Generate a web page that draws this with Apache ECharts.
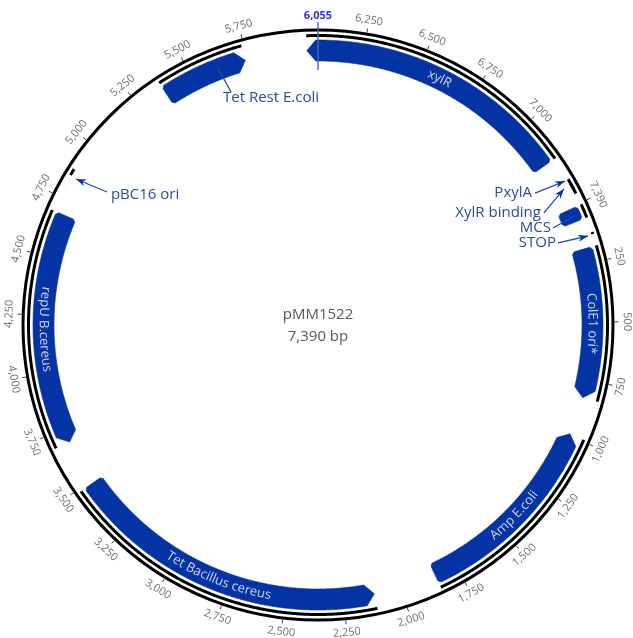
<!DOCTYPE html>
<html>
<head>
<meta charset="utf-8">
<script src="https://cdn.jsdelivr.net/npm/echarts@6/dist/echarts.min.js"></script>
<style>
  html, body { margin: 0; padding: 0; background: #ffffff; }
  #chart { width: 633px; height: 638px; }
</style>
</head>
<body>
<div id="chart"></div>
<script>
// ---- Plasmid data ----
const plasmidName = 'pMM1522';
const plasmidLength = 7390;
const plasmidLengthLabel = '7,390 bp';

const tickValues = [250, 500, 750, 1000, 1250, 1500, 1750, 2000, 2250, 2500, 2750, 3000,
  3250, 3500, 3750, 4000, 4250, 4500, 4750, 5000, 5250, 5500, 5750, 6250, 6500, 6750, 7000, 7390];
const tickLabels = ['250', '500', '750', '1,000', '1,250', '1,500', '1,750', '2,000', '2,250', '2,500',
  '2,750', '3,000', '3,250', '3,500', '3,750', '4,000', '4,250', '4,500', '4,750', '5,000', '5,250',
  '5,500', '5,750', '6,250', '6,500', '6,750', '7,000', '7,390'];

const markerValue = 6055;
const markerLabel = '6,055';

const featureNames   = ['xylR', 'PxylA', 'XylR binding', 'MCS', 'STOP', 'ColE1 ori*', 'Amp E.coli',
  'Tet Bacillus cereus', 'repU B.cereus', 'pBC16 ori', 'Tet Rest E.coli'];
const featureStarts  = [6007, 7282, 7300, 7, 128, 185, 992, 2117, 3690, 4848, 5372];
const featureEnds    = [7182, 7348, 7330, 65, 136, 828, 1845, 3488, 4688, 4876, 5740];
const featureStrands = [-1, 1, 1, 0, 1, 1, -1, -1, -1, 1, 1];

// ---- Drawing style / layout ----
const CENTER = [318, 325];
const R_OUTER = 295;       // backbone circle
const R_STRAND = 289.5;    // black span line under each feature
const R_IN = 264, R_OUT = 285;
const R_MID = (R_IN + R_OUT) / 2;
const R_TICK0 = 296.5, R_TICK1 = 300.5, R_TICKLABEL = 309;
const HEAD_PX = 9, CORNER_PX = 2.5;
const FONT = "'Open Sans', 'Noto Sans', 'DejaVu Sans', sans-serif";
const FEATURE_BLUE = '#0433a3';
const LABEL_BLUE = '#2b4b9c';
const INNER_TEXT = '#cfd6f3';

// glyph kind per feature: body = filled arc, none = span line only
const featureGlyph = ['body', 'none', 'none', 'body', 'none', 'body', 'body', 'body', 'body', 'none', 'body'];
// names drawn along the arc inside the feature
const insideLabels = ['xylR', 'ColE1 ori*', 'Amp E.coli', 'Tet Bacillus cereus', 'repU B.cereus'];
// callout labels: leader from -> to given as [radius, bp]; text anchored at "text"
const callouts = [
  { name: 'Tet Rest E.coli', from: [276, 5618], to: [248.7, 5635], text: [231.8, 5815], align: 'center', head: false },
  { name: 'pBC16 ori', from: [282.6, 4846], to: [249.4, 4869], text: [245.3, 4864], align: 'left', head: true },
  { name: 'PxylA', from: [285.9, 7282], to: [254, 7260], text: [252.3, 7255], align: 'right', head: true },
  { name: 'XylR binding', from: [281.1, 7308], to: [252.2, 7361], text: [250.4, 7357], align: 'right', head: true },
  { name: 'MCS', from: [277.5, 40], to: [254.2, 52], text: [253.3, 50], align: 'right', head: false },
  { name: 'STOP', from: [284.3, 138], to: [253.6, 125], text: [252.7, 124], align: 'right', head: true }
];

// ---- Helpers ----
const measureCtx = document.createElement('canvas').getContext('2d');
function textWidth(str, font) { measureCtx.font = font; return measureCtx.measureText(str).width; }
function bpPerPx(r) { return plasmidLength / (2 * Math.PI * r); }
function clockAngle(cs, p) { return Math.atan2(p[0] - cs.cx, -(p[1] - cs.cy)) * 180 / Math.PI; }
function isLowerHalf(theta) { return theta > 90 || theta <= -90; }
function readableRotation(theta, lower) { return -(lower ? theta - 180 : theta) * Math.PI / 180; }

function arcPoints(api, r, a, b, step) {
  const n = Math.max(1, Math.ceil(Math.abs(b - a) / step));
  const pts = [];
  for (let k = 0; k <= n; k++) pts.push(api.coord([r, a + (b - a) * k / n]));
  return pts;
}

function featureOutline(api, s, e, strand) {
  const head = HEAD_PX * bpPerPx(R_MID);
  const corner = CORNER_PX * bpPerPx(R_MID);
  let bs = s, be = e;
  if (strand > 0) be = Math.max(s, e - head);
  if (strand < 0) bs = Math.min(e, s + head);
  const a = strand < 0 ? bs : bs + corner;
  const b = strand > 0 ? be : be - corner;
  const pts = [];
  if (strand < 0) pts.push(api.coord([R_MID, s]));
  else { pts.push(api.coord([R_IN + CORNER_PX, bs])); pts.push(api.coord([R_OUT - CORNER_PX, bs])); }
  pts.push(...arcPoints(api, R_OUT, a, b, 6));
  if (strand > 0) pts.push(api.coord([R_MID, e]));
  else { pts.push(api.coord([R_OUT - CORNER_PX, be])); pts.push(api.coord([R_IN + CORNER_PX, be])); }
  pts.push(...arcPoints(api, R_IN, b, a, 6));
  return pts;
}

function arcText(api, cs, text, mid, r, font, color) {
  const lower = isLowerHalf(clockAngle(cs, api.coord([r, mid])));
  const chars = Array.from(text);
  const widths = chars.map(ch => textWidth(ch, font));
  const total = widths.reduce((x, y) => x + y, 0);
  const k = bpPerPx(r);
  let acc = -total / 2;
  const out = [];
  chars.forEach((ch, i) => {
    const c = acc + widths[i] / 2;
    acc += widths[i];
    const v = lower ? mid - c * k : mid + c * k;
    const p = api.coord([r, v]);
    out.push({
      type: 'text', x: p[0], y: p[1],
      rotation: readableRotation(clockAngle(cs, p), lower),
      style: { text: ch, font: font, fill: color, align: 'center', verticalAlign: 'middle',
               textAlign: 'center', textVerticalAlign: 'middle' }
    });
  });
  return out;
}

// ---- Chart ----
const chart = echarts.init(document.getElementById('chart'), null, { renderer: 'canvas' });

const option = {
  animation: false,
  backgroundColor: '#ffffff',
  polar: { center: CENTER, radius: R_OUTER },
  angleAxis: {
    type: 'value', min: 0, max: plasmidLength, clockwise: true,
    startAngle: (90 + markerValue / plasmidLength * 360) % 360,
    axisLine: { show: true, lineStyle: { color: '#000000', width: 3 } },
    axisTick: { show: false }, axisLabel: { show: false },
    splitLine: { show: false }, splitArea: { show: false }
  },
  radiusAxis: {
    type: 'value', min: 0, max: R_OUTER,
    axisLine: { show: false }, axisTick: { show: false }, axisLabel: { show: false },
    splitLine: { show: false }, splitArea: { show: false }
  },
  series: [
    // span lines and feature bodies
    {
      type: 'custom', coordinateSystem: 'polar', clip: false,
      data: featureStarts.map(s => [R_MID, s]),
      renderItem: function (params, api) {
        const i = params.dataIndex;
        const s = featureStarts[i], e = featureEnds[i];
        const children = [{
          type: 'polyline',
          shape: { points: arcPoints(api, R_STRAND, s, e, 4) },
          style: { stroke: '#000000', lineWidth: 3, fill: null, lineCap: 'butt' }
        }];
        if (featureGlyph[i] === 'body') {
          children.push({
            type: 'polygon',
            shape: { points: featureOutline(api, s, e, featureStrands[i]) },
            style: { fill: FEATURE_BLUE, stroke: FEATURE_BLUE, lineWidth: 0.6 }
          });
        }
        return { type: 'group', children: children };
      }
    },
    // names along the arcs
    {
      type: 'custom', coordinateSystem: 'polar', clip: false,
      data: insideLabels.map(n => [R_MID, featureStarts[featureNames.indexOf(n)]]),
      renderItem: function (params, api) {
        const name = insideLabels[params.dataIndex];
        const i = featureNames.indexOf(name);
        const mid = (featureStarts[i] + featureEnds[i]) / 2;
        return { type: 'group', children: arcText(api, params.coordSys, name, mid, R_MID, '13px ' + FONT, INNER_TEXT) };
      }
    },
    // callout labels with leader lines
    {
      type: 'custom', coordinateSystem: 'polar', clip: false,
      data: callouts.map(c => c.from),
      renderItem: function (params, api) {
        const c = callouts[params.dataIndex];
        const p0 = api.coord(c.from), p1 = api.coord(c.to), pt = api.coord(c.text);
        const children = [{
          type: 'line',
          shape: { x1: p1[0], y1: p1[1], x2: p0[0], y2: p0[1] },
          style: { stroke: LABEL_BLUE, lineWidth: 1.3 }
        }];
        if (c.head) {
          const dx = p0[0] - p1[0], dy = p0[1] - p1[1];
          const len = Math.hypot(dx, dy), ux = dx / len, uy = dy / len;
          const L = 10, W = 3.6;
          const bx = p0[0] - ux * L, by = p0[1] - uy * L;
          children.push({
            type: 'polygon',
            shape: { points: [p0, [bx - uy * W, by + ux * W], [bx + ux * 3, by + uy * 3], [bx + uy * W, by - ux * W]] },
            style: { fill: FEATURE_BLUE }
          });
        }
        let tx = pt[0];
        if (c.align === 'right') tx -= 1;
        if (c.align === 'left') tx += 1;
        children.push({
          type: 'text', x: tx, y: pt[1],
          style: { text: c.name, font: '15px ' + FONT, fill: LABEL_BLUE,
                   align: c.align, verticalAlign: 'middle', textAlign: c.align, textVerticalAlign: 'middle' }
        });
        return { type: 'group', children: children };
      }
    },
    // tick marks and tick labels
    {
      type: 'custom', coordinateSystem: 'polar', clip: false,
      data: tickValues.map(v => [R_TICKLABEL, v]),
      renderItem: function (params, api) {
        const v = tickValues[params.dataIndex];
        const a = api.coord([R_TICK0, v]), b = api.coord([R_TICK1, v]), p = api.coord([R_TICKLABEL, v]);
        const theta = clockAngle(params.coordSys, p);
        return {
          type: 'group',
          children: [
            { type: 'line', shape: { x1: a[0], y1: a[1], x2: b[0], y2: b[1] }, style: { stroke: '#444444', lineWidth: 1 } },
            {
              type: 'text', x: p[0], y: p[1], rotation: readableRotation(theta, isLowerHalf(theta)),
              style: { text: tickLabels[params.dataIndex], font: '11px ' + FONT, fill: '#707070',
                       align: 'center', verticalAlign: 'middle', textAlign: 'center', textVerticalAlign: 'middle' }
            }
          ]
        };
      }
    },
    // highlighted position marker
    {
      type: 'custom', coordinateSystem: 'polar', clip: false,
      data: [[R_OUTER, markerValue]],
      renderItem: function (params, api) {
        const a = api.coord([303, markerValue]), b = api.coord([255, markerValue]), t = api.coord([309, markerValue]);
        return {
          type: 'group',
          children: [
            { type: 'line', shape: { x1: a[0], y1: a[1], x2: b[0], y2: b[1] }, style: { stroke: '#4466bb', lineWidth: 1.4 } },
            { type: 'text', x: t[0], y: t[1],
              style: { text: markerLabel, font: 'bold 11px ' + FONT, fill: '#2f2ff5',
                       align: 'center', verticalAlign: 'middle', textAlign: 'center', textVerticalAlign: 'middle' } }
          ]
        };
      }
    },
    // plasmid name and size in the middle
    {
      type: 'custom', coordinateSystem: 'polar', clip: false,
      data: [[0, 0]],
      renderItem: function (params, api) {
        const c = api.coord([0, 0]);
        return {
          type: 'group',
          children: [
            { type: 'text', x: c[0], y: c[1] - 10,
              style: { text: plasmidName, font: '15px ' + FONT, fill: '#595959',
                       align: 'center', verticalAlign: 'middle', textAlign: 'center', textVerticalAlign: 'middle' } },
            { type: 'text', x: c[0], y: c[1] + 12,
              style: { text: plasmidLengthLabel, font: '15px ' + FONT, fill: '#595959',
                       align: 'center', verticalAlign: 'middle', textAlign: 'center', textVerticalAlign: 'middle' } }
          ]
        };
      }
    }
  ]
};

chart.setOption(option);
</script>
</body>
</html>
